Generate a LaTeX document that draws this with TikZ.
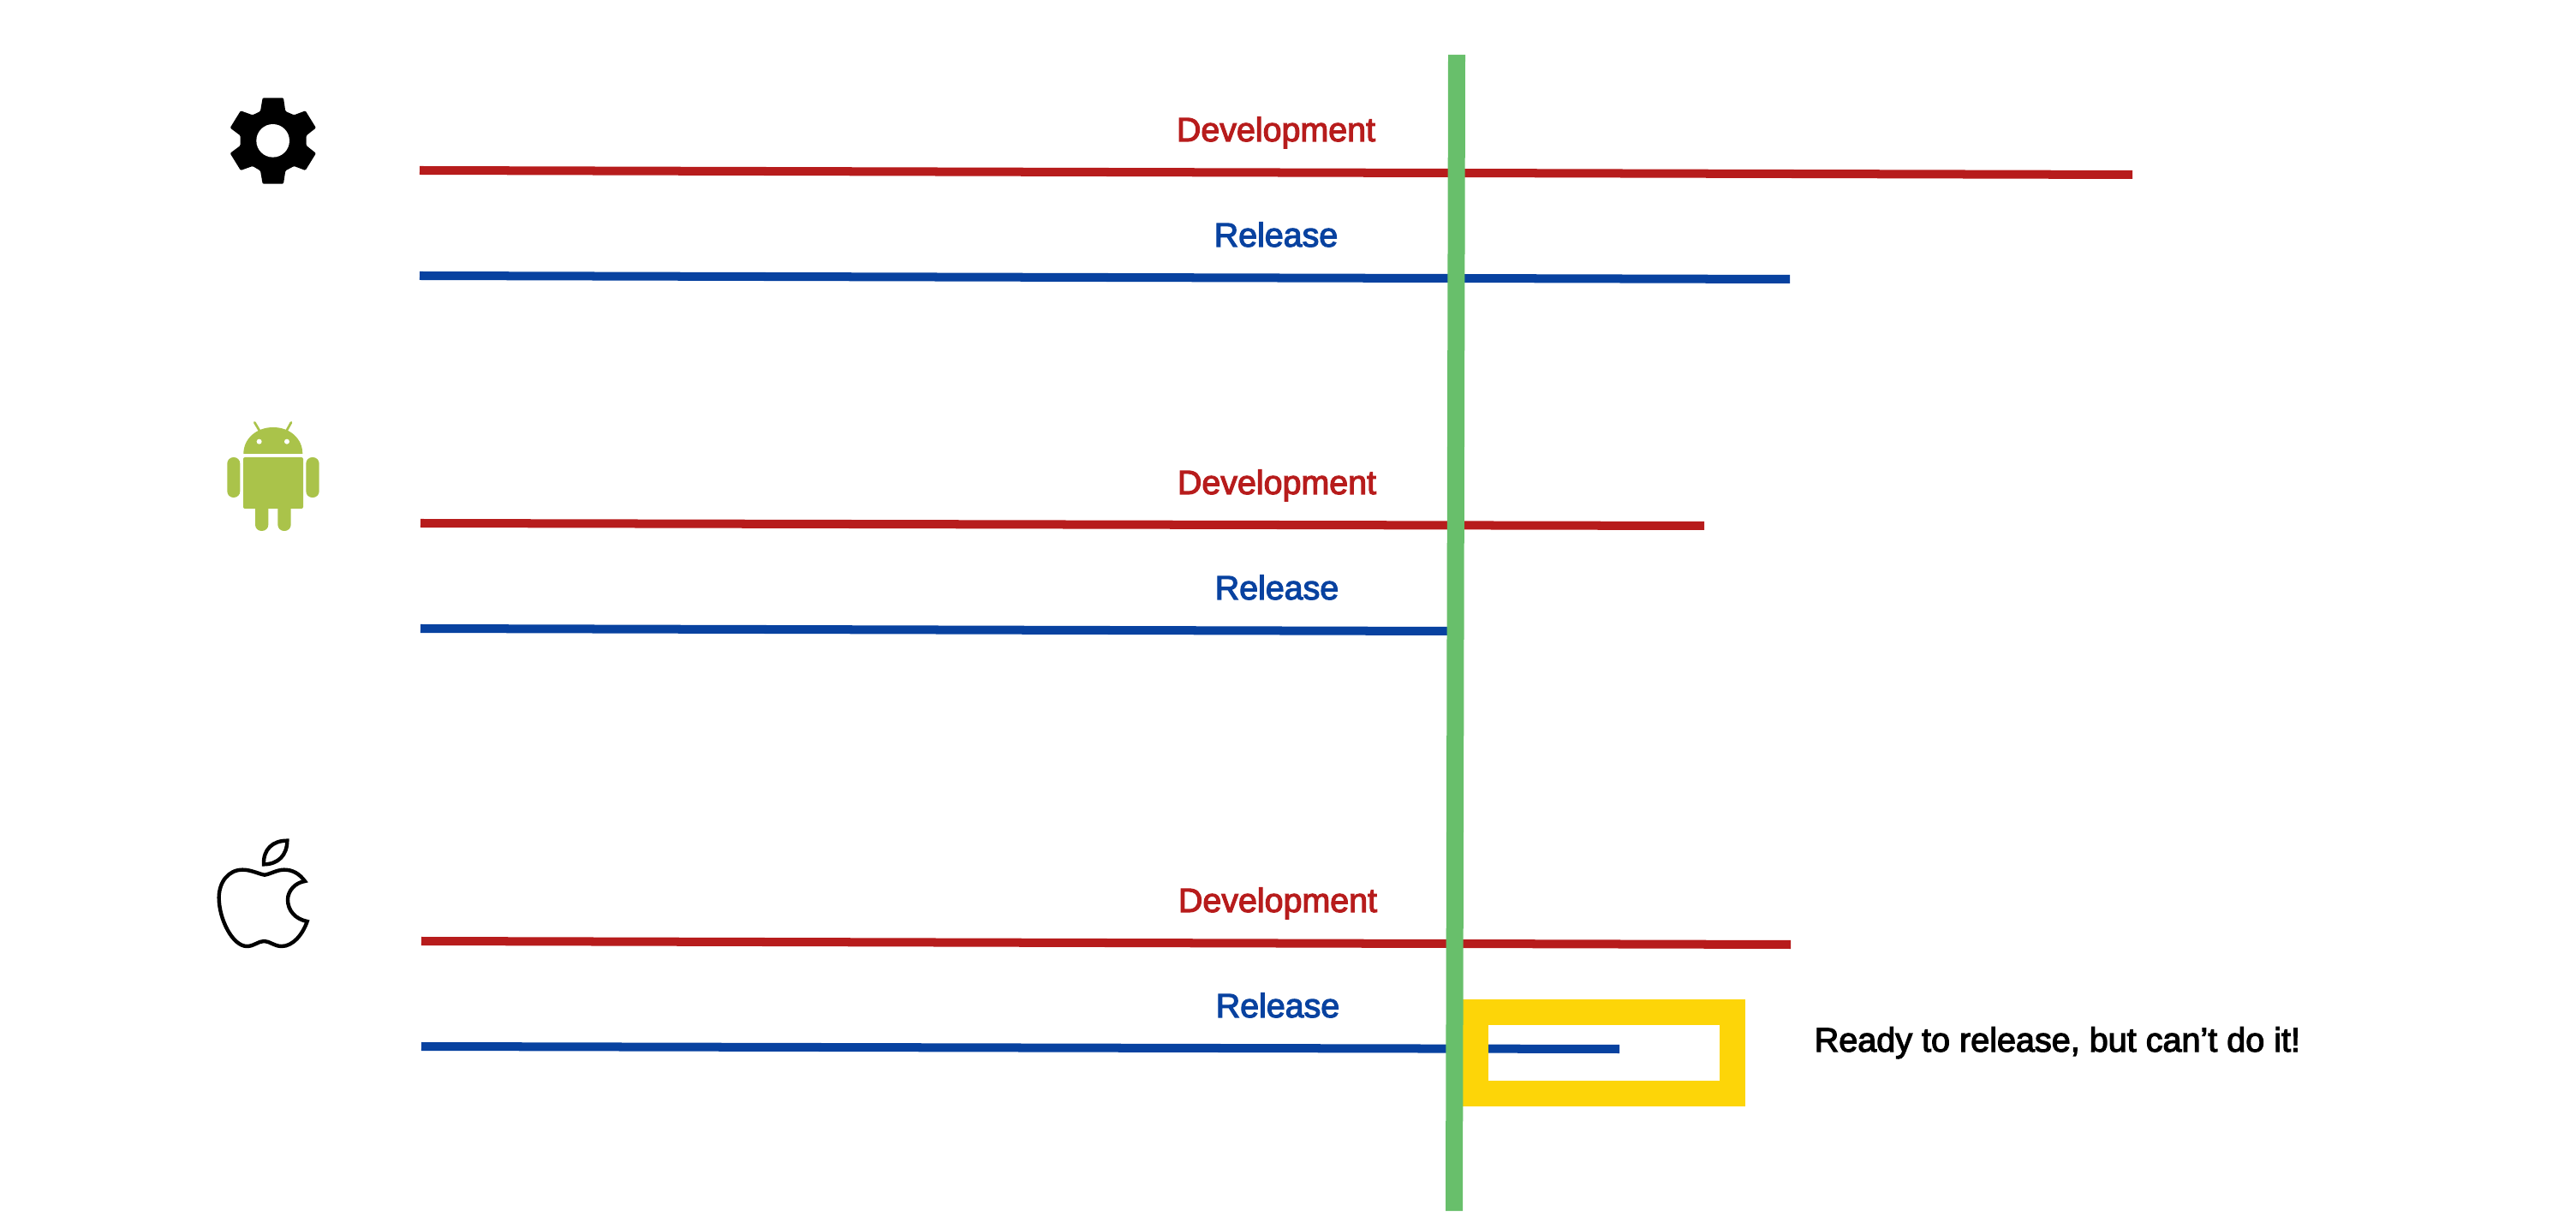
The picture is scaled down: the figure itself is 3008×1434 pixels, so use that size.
\documentclass[tikz,border=0pt]{standalone}
\usepackage{fontspec}
\usepackage{tikz}
\setmainfont{Liberation Sans}
\newfontfamily\trackFont[FakeBold=3]{Liberation Sans}
\definecolor{trackRed}{HTML}{B71C1C}
\definecolor{trackBlue}{HTML}{0842A0}
\definecolor{cutGreen}{HTML}{68BF6B}
\definecolor{flagYellow}{HTML}{FDD508}
\definecolor{droidGreen}{HTML}{AAC34A}

\begin{document}
\begin{tikzpicture}[
  x=.01cm,y=-.01cm,
  devLine/.style={draw=trackRed,line width=.1cm},
  relLine/.style={draw=trackBlue,line width=.1cm},
  devLabel/.style={anchor=base,inner sep=0pt,text=trackRed,font=\fontsize{11.2}{13}\selectfont\trackFont},
  relLabel/.style={anchor=base,inner sep=0pt,text=trackBlue,font=\fontsize{11.2}{13}\selectfont\trackFont}
]
  \useasboundingbox (0,0) rectangle (3008,1434);

  % settings row
  \coordinate (gearDevStart) at (490,199); \coordinate (gearDevEnd) at (2490,204);
  \coordinate (gearRelStart) at (490,322); \coordinate (gearRelEnd) at (2090,326);
  \draw[devLine] (gearDevStart) -- (gearDevEnd);
  \draw[relLine] (gearRelStart) -- (gearRelEnd);
  \node[devLabel] (gearDev) at (1490,165) {Development};
  \node[relLabel] (gearRel) at (1490,288) {Release};

  % android row
  \coordinate (droidDevStart) at (491,611); \coordinate (droidDevEnd) at (1990,614);
  \coordinate (droidRelStart) at (491,734); \coordinate (droidRelEnd) at (1695,737);
  \draw[devLine] (droidDevStart) -- (droidDevEnd);
  \draw[relLine] (droidRelStart) -- (droidRelEnd);
  \node[devLabel] (droidDev) at (1491,577) {Development};
  \node[relLabel] (droidRel) at (1491,700) {Release};

  % apple row
  \coordinate (appleDevStart) at (492,1099); \coordinate (appleDevEnd) at (2091,1103);
  \coordinate (appleRelStart) at (492,1222); \coordinate (appleRelEnd) at (1891,1225);
  \draw[devLine] (appleDevStart) -- (appleDevEnd);
  \draw[relLine] (appleRelStart) -- (appleRelEnd);
  \node[devLabel] (appleDev) at (1492,1065) {Development};
  \node[relLabel] (appleRel) at (1492,1188) {Release};

  % blocked box and cut line
  \draw[flagYellow,line width=.3cm] (1723,1182) rectangle (2023,1277);
  \fill[cutGreen] (1691,64) -- (1711,64) -- (1708,1414) -- (1688,1414) -- cycle;
  \node[anchor=base west,inner sep=0pt,font=\fontsize{11.25}{13}\selectfont\trackFont] (blockedNote) at (2118,1228) {Ready to release, but can’t do it!};

  % gear
  \begin{scope}[shift={(230,80)},x=.01cm/3,y=-.01cm/3]
    \fill[black,rounded corners=.012cm] (230,103) -- (303,103) -- (310,150) -- (340,163) -- (380,148) -- (417,208) -- (383,235) -- (383,270) -- (417,297) -- (380,357) -- (340,342) -- (310,358) -- (303,404) -- (230,404) -- (222,358) -- (195,342) -- (153,357) -- (116,297) -- (152,270) -- (152,235) -- (116,208) -- (153,148) -- (195,163) -- (222,150) -- cycle;
    \fill[white] (266,253) circle[radius=58];
  \end{scope}

  % android
  \begin{scope}[shift={(240,470)},x=.01cm/3,y=-.01cm/3]
    \draw[droidGreen,line width=.027cm,line cap=round] (172,70) -- (192,104);
    \draw[droidGreen,line width=.027cm,line cap=round] (300,70) -- (281,104);
    \fill[droidGreen] (133,180) .. controls (133,125) and (180,87) .. (237,87) .. controls (294,87) and (340,125) .. (340,180) -- cycle;
    \fill[white] (188,137) circle[radius=9];
    \fill[white] (285,137) circle[radius=9];
    \fill[droidGreen,rounded corners=.02cm] (132,192) rectangle (342,372);
    \fill[droidGreen,rounded corners=.073cm] (76,192) rectangle (121,333);
    \fill[droidGreen,rounded corners=.073cm] (352,192) rectangle (398,333);
    \fill[droidGreen,rounded corners=.073cm] (174,340) rectangle (220,450);
    \fill[droidGreen,rounded corners=.073cm] (253,340) rectangle (299,450);
  \end{scope}

  % apple
  \begin{scope}[shift={(230,960)},x=.01cm/3,y=-.01cm/3]
    \draw[black,line width=.044cm] (234,148) .. controls (232,95) and (265,65) .. (316,65) .. controls (316,115) and (285,148) .. (234,148) -- cycle;
    \draw[black,line width=.044cm] (378,207) .. controls (358,180) and (335,167) .. (305,167) .. controls (280,167) and (255,183) .. (237,185) .. controls (220,183) and (190,167) .. (160,167) .. controls (110,167) and (77,210) .. (77,265) .. controls (77,340) and (125,435) .. (175,435) .. controls (200,435) and (215,417) .. (235,417) .. controls (255,417) and (270,435) .. (297,435) .. controls (335,435) and (370,395) .. (386,348) .. controls (345,340) and (318,310) .. (318,272) .. controls (318,240) and (345,212) .. (378,207) -- cycle;
  \end{scope}
\end{tikzpicture}
\end{document}
